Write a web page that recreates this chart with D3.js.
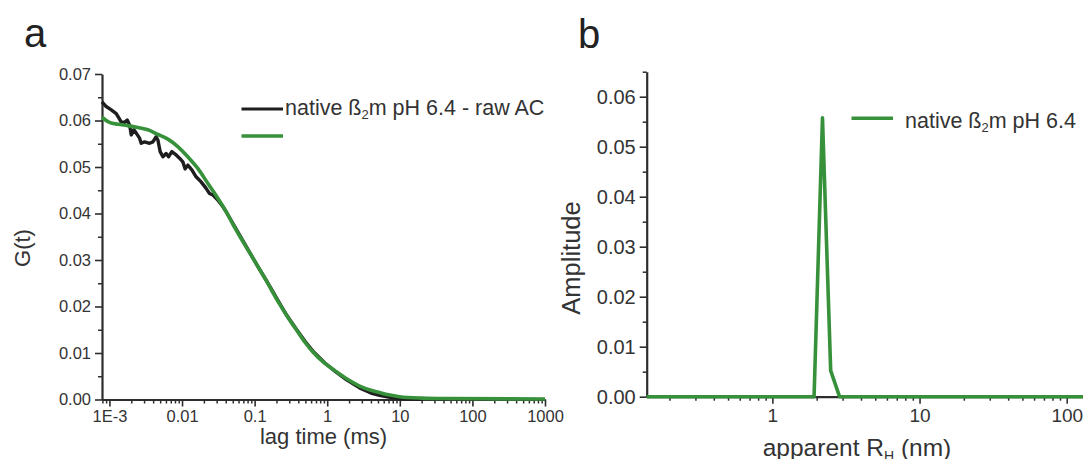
<!DOCTYPE html>
<html>
<head>
<meta charset="utf-8">
<script src="https://cdn.jsdelivr.net/npm/d3@7"></script>
<style>
  html, body { margin: 0; padding: 0; background: #fff; }
  svg { display: block; font-family: "Liberation Sans", Arial, Helvetica, sans-serif; }
  .axis path, .axis line { stroke: #2d2d2d; }
  .axis text { fill: #333; font-family: "Liberation Sans", Arial, sans-serif; }
</style>
</head>
<body>
<svg id="chart" width="1083" height="459"></svg>
<script>
// ---- Panel a: autocorrelation curve (raw) and its fit ----
const lagTimeRaw = [0.00079, 0.000903, 0.00106, 0.00124, 0.00134, 0.00145, 0.00162, 0.00176, 0.0019, 0.002,
  0.00217, 0.00234, 0.0026, 0.00274, 0.00305, 0.00357, 0.00397, 0.0044, 0.00465, 0.005,
  0.00545, 0.00604, 0.00652, 0.00724, 0.0083, 0.00924, 0.01026, 0.01104, 0.01202, 0.01365,
  0.01563, 0.01832, 0.02147, 0.0239, 0.02654, 0.03106, 0.0364, 0.04046, 0.0505, 0.06,
  0.0857, 0.11, 0.145, 0.18, 0.221, 0.28, 0.376, 0.5, 0.635, 0.92,
  1.3, 1.83, 2.79, 4, 5.25, 7, 9.9, 15, 20];
const gRaw = [0.0640, 0.0630, 0.0623, 0.0615, 0.0606, 0.0597, 0.0596, 0.0601, 0.0590, 0.0569,
  0.0580, 0.0573, 0.0562, 0.0551, 0.0554, 0.0551, 0.0554, 0.0565, 0.0558, 0.0533,
  0.0522, 0.0529, 0.0522, 0.0533, 0.0526, 0.0519, 0.0511, 0.0496, 0.0504, 0.0494,
  0.0479, 0.0468, 0.0454, 0.0443, 0.0440, 0.0429, 0.0415, 0.0404, 0.0378, 0.0358,
  0.0316, 0.0287, 0.0256, 0.0231, 0.0207, 0.0180, 0.0151, 0.0124, 0.0104, 0.0079,
  0.0060, 0.0043, 0.0025, 0.0014, 0.0009, 0.0005, 0.0002, 0.0001, 0.00005];

const lagTimeFit = [0.00079, 0.001, 0.00131, 0.00179, 0.00247, 0.00339, 0.00465, 0.00638, 0.00875, 0.012,
  0.0165, 0.0226, 0.0311, 0.0405, 0.0505, 0.07, 0.1, 0.145, 0.221, 0.3,
  0.376, 0.5, 0.635, 0.92, 1.3, 1.83, 2.79, 4, 5.25, 7,
  9.9, 20, 43.6, 1000];
const gFit = [0.0607, 0.0596, 0.0592, 0.0589, 0.0585, 0.0580, 0.0570, 0.0560, 0.0544, 0.0522,
  0.0497, 0.0465, 0.0433, 0.0404, 0.0376, 0.0338, 0.0298, 0.0255, 0.0205, 0.0172,
  0.0150, 0.0122, 0.0102, 0.0078, 0.0061, 0.0045, 0.0029, 0.0020, 0.0015, 0.0010,
  0.0006, 0.0003, 0.0002, 0.0001];

const xTicksA = [0.001, 0.01, 0.1, 1, 10, 100, 1000];
const xTickLabelsA = ["1E-3", "0.01", "0.1", "1", "10", "100", "1000"];
const yTicksA = [0, 0.01, 0.02, 0.03, 0.04, 0.05, 0.06, 0.07];
const yTickLabelsA = ["0.00", "0.01", "0.02", "0.03", "0.04", "0.05", "0.06", "0.07"];
const yMinorA = [0.005, 0.015, 0.025, 0.035, 0.045, 0.055, 0.065];

// ---- Panel b: size distribution ----
const radiusNm = [0.14, 1.92, 2.19, 2.49, 2.86, 130];
const amplitude = [0, 0, 0.0558, 0.0052, 0, 0];

const xTicksB = [1, 10, 100];
const xTickLabelsB = ["1", "10", "100"];
const yTicksB = [0, 0.01, 0.02, 0.03, 0.04, 0.05, 0.06];
const yTickLabelsB = ["0.00", "0.01", "0.02", "0.03", "0.04", "0.05", "0.06"];
const yMinorB = [0.005, 0.015, 0.025, 0.035, 0.045, 0.055, 0.065];

const GREEN = "#37913a";
const BLACK = "#1e1e1e";
const TEXT = "#333";

const svg = d3.select("#chart");

// axis helper: major ticks with labels plus unlabeled minor ticks
function drawAxis(g, axisFn, scale, majors, labels, minors, fontSize, pad) {
  const major = axisFn(scale).tickValues(majors)
    .tickFormat((d, i) => labels[i]).tickSize(7).tickSizeOuter(0).tickPadding(pad);
  const minor = axisFn(scale).tickValues(minors).tickFormat("").tickSize(4).tickSizeOuter(0);
  const gm = g.append("g").attr("class", "axis").call(minor);
  gm.select(".domain").remove();
  gm.selectAll("line").attr("stroke-width", 1.5);
  const gM = g.append("g").attr("class", "axis").call(major);
  gM.select(".domain").attr("stroke-width", 2.2);
  gM.selectAll("line").attr("stroke-width", 1.6);
  gM.selectAll("text").attr("font-size", fontSize);
  return gM;
}

// ===== Panel a =====
const xA = d3.scaleLog().domain([0.00079, 1000]).range([102, 545]);
const yA = d3.scaleLinear().domain([0, 0.07]).range([399.5, 74]);

const minorXA = xA.ticks().filter(d => !xTicksA.some(m => Math.abs(m - d) / m < 1e-9));

drawAxis(svg.append("g").attr("transform", `translate(0,${yA(0)})`),
  d3.axisBottom, xA, xTicksA, xTickLabelsA, minorXA, 16.5, 4);
drawAxis(svg.append("g").attr("transform", `translate(${xA.range()[0]},0)`),
  d3.axisLeft, yA, yTicksA, yTickLabelsA, yMinorA, 16.5, 4);

svg.append("path")
  .datum(lagTimeRaw.map((t, i) => [t, gRaw[i]]))
  .attr("d", d3.line().x(d => xA(d[0])).y(d => yA(d[1])))
  .attr("fill", "none").attr("stroke", BLACK)
  .attr("stroke-width", 3.4).attr("stroke-linejoin", "round");
svg.append("path")
  .datum(lagTimeFit.map((t, i) => [t, gFit[i]]))
  .attr("d", d3.line().curve(d3.curveMonotoneX).x(d => xA(d[0])).y(d => yA(d[1])))
  .attr("fill", "none").attr("stroke", GREEN)
  .attr("stroke-width", 3.6).attr("stroke-linejoin", "round");

svg.append("text").attr("x", 323.5).attr("y", 444).attr("text-anchor", "middle")
  .attr("font-size", 22).attr("fill", TEXT).text("lag time (ms)");
svg.append("text").attr("transform", "translate(30,248) rotate(-90)")
  .attr("text-anchor", "middle").attr("font-size", 22).attr("fill", TEXT).text("G(t)");

// legend a
svg.append("line").attr("x1", 241.5).attr("x2", 283).attr("y1", 109).attr("y2", 109)
  .attr("stroke", BLACK).attr("stroke-width", 3.2);
svg.append("line").attr("x1", 241.5).attr("x2", 283).attr("y1", 136).attr("y2", 136)
  .attr("stroke", GREEN).attr("stroke-width", 3.6);
const legA = svg.append("text").attr("x", 285).attr("y", 115)
  .attr("font-size", 21.5).attr("fill", TEXT);
legA.append("tspan").text("native ß");
legA.append("tspan").attr("font-size", 13).attr("dy", 4).text("2");
legA.append("tspan").attr("dy", -4).text("m pH 6.4 - raw AC");

svg.append("text").attr("x", 24).attr("y", 47).attr("font-size", 40)
  .attr("fill", "#222").text("a");

// ===== Panel b =====
const xB = d3.scaleLog().domain([0.14, 130]).range([646.7, 1083.5]);
const yB = d3.scaleLinear().domain([0, 0.065]).range([396.7, 71.7]);

const minorXB = xB.ticks().filter(d => !xTicksB.some(m => Math.abs(m - d) / m < 1e-9));

drawAxis(svg.append("g").attr("transform", `translate(0,${yB(0)})`),
  d3.axisBottom, xB, xTicksB, xTickLabelsB, minorXB, 19, 4.5);
drawAxis(svg.append("g").attr("transform", `translate(${xB.range()[0]},0)`),
  d3.axisLeft, yB, yTicksB, yTickLabelsB, yMinorB, 20, 4);

svg.append("path")
  .datum(radiusNm.map((r, i) => [r, amplitude[i]]))
  .attr("d", d3.line().x(d => xB(d[0])).y(d => yB(d[1])))
  .attr("fill", "none").attr("stroke", GREEN)
  .attr("stroke-width", 3.6).attr("stroke-linejoin", "round");

const xTitleB = svg.append("text").attr("x", 857).attr("y", 456).attr("text-anchor", "middle")
  .attr("font-size", 24.5).attr("fill", TEXT);
xTitleB.append("tspan").text("apparent R");
xTitleB.append("tspan").attr("font-size", 14).attr("dy", 5).text("H");
xTitleB.append("tspan").attr("dy", -5).text(" (nm)");
svg.append("text").attr("transform", "translate(580,258) rotate(-90)")
  .attr("text-anchor", "middle").attr("font-size", 25.5).attr("fill", TEXT).text("Amplitude");

// legend b
svg.append("line").attr("x1", 851.5).attr("x2", 893).attr("y1", 118.3).attr("y2", 118.3)
  .attr("stroke", GREEN).attr("stroke-width", 3.6);
const legB = svg.append("text").attr("x", 905).attr("y", 128.3)
  .attr("font-size", 21.5).attr("fill", TEXT);
legB.append("tspan").text("native ß");
legB.append("tspan").attr("font-size", 13).attr("dy", 4).text("2");
legB.append("tspan").attr("dy", -4).text("m pH 6.4");

svg.append("text").attr("x", 578).attr("y", 47.5).attr("font-size", 40)
  .attr("fill", "#222").text("b");
</script>
</body>
</html>
